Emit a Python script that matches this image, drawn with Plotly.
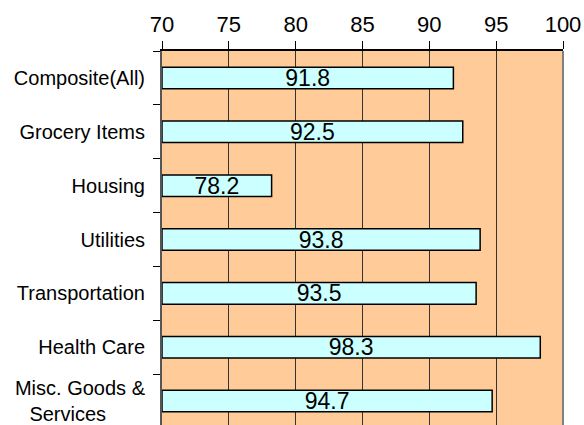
import plotly.graph_objects as go

categories = ["Composite(All)", "Grocery Items", "Housing", "Utilities",
              "Transportation", "Health Care",
              "Misc. Goods &<br>Services&nbsp;&nbsp;&nbsp;&nbsp;&nbsp;&nbsp;&nbsp;"]
values = [91.8, 92.5, 78.2, 93.8, 93.5, 98.3, 94.7]
x_ticks = [70, 75, 80, 85, 90, 95, 100]
BASE = 70

fig = go.Figure()
fig.add_trace(go.Bar(
    y=categories,
    x=[v - BASE for v in values],
    base=BASE,
    orientation="h",
    width=0.4,
    marker=dict(color="#CCFFFF", line=dict(color="#000000", width=1.5)),
    text=[f"{v:.1f}" for v in values],
    textposition="inside",
    insidetextanchor="middle",
    textangle=0,
    constraintext="none",
    textfont=dict(family="Liberation Sans, Arial, sans-serif", size=23, color="#000000"),
    hoverinfo="skip",
))

fig.update_layout(
    width=584, height=425,
    margin=dict(l=162, r=21, t=51, b=0),
    paper_bgcolor="#FFFFFF",
    plot_bgcolor="#FFCC99",
    showlegend=False,
    font=dict(family="Liberation Sans, Arial, sans-serif", color="#000000"),
    xaxis=dict(
        side="top",
        range=[70, 100],
        tickvals=x_ticks,
        ticktext=[str(t) for t in x_ticks],
        ticks="outside", ticklen=8, tickcolor="#000000", tickwidth=1,
        tickfont=dict(size=22, color="#000000"),
        showgrid=True, gridcolor="#333333", gridwidth=1,
        showline=True, linecolor="#000000", linewidth=1.5,
        zeroline=False,
        fixedrange=True,
    ),
    yaxis=dict(
        type="category",
        range=[6.444, -0.5],
        tickson="boundaries",
        ticks="outside", ticklen=7, tickcolor="#000000", tickwidth=1,
        tickfont=dict(size=20, color="#000000"),
        ticklabelstandoff=11,
        showgrid=False,
        showline=True, linecolor="#555555", linewidth=2,
        zeroline=False,
        fixedrange=True,
    ),
    shapes=[dict(type="line", xref="paper", yref="paper", x0=1, x1=1, y0=0, y1=1,
                 line=dict(color="#808080", width=2))],
)

fig.write_html("out.html", config={"displayModeBar": False},
               post_script="document.body.style.margin='0';document.body.style.overflow='hidden';")
